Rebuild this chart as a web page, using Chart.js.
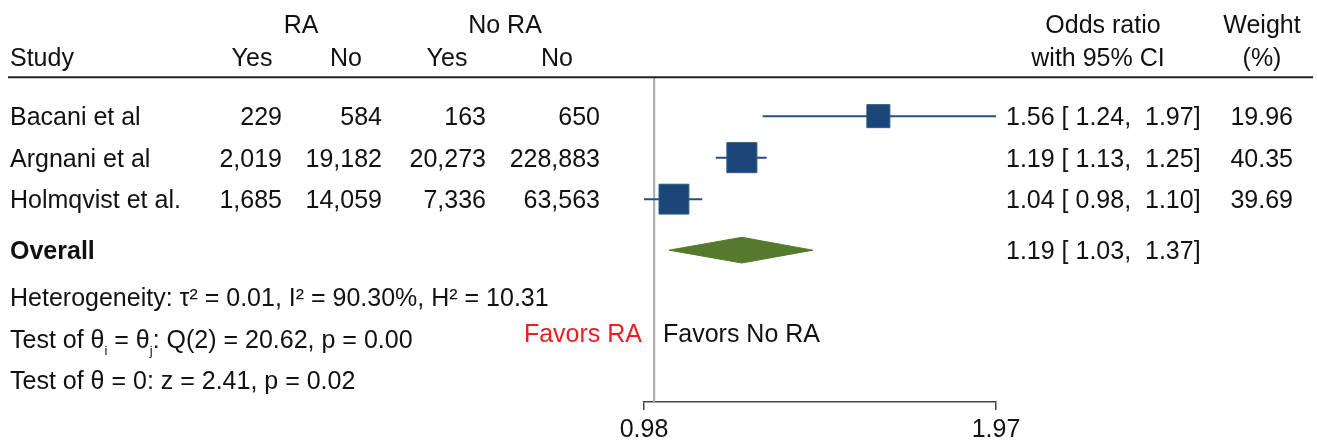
<!DOCTYPE html>
<html>
<head>
<meta charset="utf-8">
<script src="https://cdn.jsdelivr.net/npm/chart.js@4.4.1/dist/chart.umd.min.js"></script>
<style>
  html, body { margin: 0; padding: 0; background: #fff; }
  #wrap { width: 1317px; height: 441px; }
</style>
</head>
<body>
<div id="wrap"><canvas id="forest"></canvas></div>
<script>
// forest plot: RA vs No RA, random-effects odds ratios

var studies   = ['Bacani et al', 'Argnani et al', 'Holmqvist et al.'];
var raYes     = [229, 2019, 1685];
var raNo      = [584, 19182, 14059];
var noRaYes   = [163, 20273, 7336];
var noRaNo    = [650, 228883, 63563];
var oddsRatio = [1.56, 1.19, 1.04];
var ciLow     = [1.24, 1.13, 0.98];
var ciHigh    = [1.97, 1.25, 1.10];
var weights   = [19.96, 40.35, 39.69];
var overallOR = [1.19, 1.03, 1.37];   // estimate, lower, upper
var xTicks    = [0.98, 1.97];
var nullValue = 1;
var statLines = [
    'Heterogeneity: \u03c4\u00b2 = 0.01, I\u00b2 = 90.30%, H\u00b2 = 10.31',
    ['Test of \u03b8', 'i', ' = \u03b8', 'j', ': Q(2) = 20.62, p = 0.00'],
    'Test of \u03b8 = 0: z = 2.41, p = 0.02'
];

var FONT   = '"Liberation Sans", Arial, Helvetica, sans-serif';
var FS     = 25;
var NAVY   = '#1b4677';
var WHISK  = '#24507f';
var GREEN  = '#567a2c';

// row layout (row units on the y scale, studies at 1..n)
var Y_MIN = 0.08, Y_MAX = 7.89;
var HEAD_ROW1 = -1.23, HEAD_ROW2 = -0.43, HEAD_RULE = 0.06;
var overallRow = studies.length + 1.23;
var statRows = [overallRow + 1.12, overallRow + 2.14, overallRow + 3.13];
var favorsRow = overallRow + 2.0;
var DIAMOND_HALF = 0.31;

function fmt(n) { return n.toLocaleString('en-US'); }
function ciText(est, lo, hi) {
    return est.toFixed(2) + ' [ ' + lo.toFixed(2) + ',  ' + hi.toFixed(2) + ']';
}

var datasets = [];

// line of no effect
datasets.push({
    data: [{ x: nullValue, y: Y_MIN }, { x: nullValue, y: Y_MAX }],
    showLine: true, borderColor: '#a8a8a8', borderWidth: 2,
    pointRadius: 0, order: 5
});

// confidence intervals
studies.forEach(function (s, i) {
    datasets.push({
        data: [{ x: ciLow[i], y: i + 1 }, { x: ciHigh[i], y: i + 1 }],
        showLine: true, borderColor: WHISK, borderWidth: 2,
        pointRadius: 0, order: 3
    });
});

// weighted boxes (side grows with weight)
datasets.push({
    data: oddsRatio.map(function (v, i) { return { x: v, y: i + 1 }; }),
    pointStyle: 'rect',
    pointRadius: weights.map(function (w) { return 23 * Math.pow(w / 19.96, 0.38) / Math.SQRT2; }),
    backgroundColor: NAVY, borderColor: '#2a5a8c', borderWidth: 1,
    order: 1
});

// overall diamond
datasets.push({
    data: [
        { x: overallOR[1], y: overallRow },
        { x: overallOR[0], y: overallRow - DIAMOND_HALF },
        { x: overallOR[2], y: overallRow },
        { x: overallOR[0], y: overallRow + DIAMOND_HALF },
        { x: overallOR[1], y: overallRow }
    ],
    showLine: true, fill: 'shape', tension: 0,
    borderColor: GREEN, backgroundColor: GREEN, borderWidth: 1,
    pointRadius: 0, order: 2
});

function drawText(ctx, s, x, yc, align, opts) {
    opts = opts || {};
    var size = opts.size || FS;
    ctx.font = (opts.bold ? 'bold ' : '') + size + 'px ' + FONT;
    ctx.fillStyle = opts.color || '#111';
    ctx.textAlign = align || 'left';
    ctx.textBaseline = 'alphabetic';
    ctx.fillText(s, x, yc + 0.36 * FS);
    return ctx.measureText(s).width;
}

var tablePlugin = {
    id: 'forestTable',
    afterDraw: function (chart) {
        var ctx = chart.ctx;
        var ys = chart.scales.y;
        var ry = function (r) { return ys.getPixelForValue(r); };
        ctx.save();

        ctx.strokeStyle = '#222';
        ctx.lineWidth = 2;
        ctx.beginPath();
        ctx.moveTo(8, ry(HEAD_RULE));
        ctx.lineTo(1313, ry(HEAD_RULE));
        ctx.stroke();

        // headers
        drawText(ctx, 'RA', 301, ry(HEAD_ROW1), 'center');
        drawText(ctx, 'No RA', 505, ry(HEAD_ROW1), 'center');
        drawText(ctx, 'Odds ratio', 1103, ry(HEAD_ROW1), 'center');
        drawText(ctx, 'Weight', 1262, ry(HEAD_ROW1), 'center');
        drawText(ctx, 'Study', 10, ry(HEAD_ROW2), 'left');
        drawText(ctx, 'Yes', 252, ry(HEAD_ROW2), 'center');
        drawText(ctx, 'No', 346, ry(HEAD_ROW2), 'center');
        drawText(ctx, 'Yes', 447, ry(HEAD_ROW2), 'center');
        drawText(ctx, 'No', 557, ry(HEAD_ROW2), 'center');
        drawText(ctx, 'with 95% CI', 1098, ry(HEAD_ROW2), 'center');
        drawText(ctx, '(%)', 1262, ry(HEAD_ROW2), 'center');

        // study rows
        var colRight = [282, 382, 486, 600];
        studies.forEach(function (s, i) {
            var y = ry(i + 1);
            drawText(ctx, s, 10, y, 'left');
            [raYes, raNo, noRaYes, noRaNo].forEach(function (arr, c) {
                drawText(ctx, fmt(arr[i]), colRight[c], y, 'right');
            });
            drawText(ctx, ciText(oddsRatio[i], ciLow[i], ciHigh[i]), 1006, y, 'left');
            drawText(ctx, weights[i].toFixed(2), 1293, y, 'right');
        });

        drawText(ctx, 'Overall', 10, ry(overallRow), 'left', { bold: true });
        drawText(ctx, ciText(overallOR[0], overallOR[1], overallOR[2]), 1006, ry(overallRow), 'left');

        // heterogeneity and tests
        statLines.forEach(function (line, k) {
            var y = ry(statRows[k]);
            if (typeof line === 'string') {
                drawText(ctx, line, 10, y, 'left');
                return;
            }
            var x = 10;
            line.forEach(function (part, j) {
                if (j % 2 === 1) {
                    x += drawText(ctx, part, x, y + 7, 'left', { size: 13 });
                } else {
                    x += drawText(ctx, part, x, y, 'left');
                }
            });
        });

        drawText(ctx, 'Favors RA', 642, ry(favorsRow), 'right', { color: '#ee1d24' });
        drawText(ctx, 'Favors No RA', 663, ry(favorsRow), 'left');

        ctx.restore();
    }
};

new Chart(document.getElementById('forest'), {
    type: 'scatter',
    data: { datasets: datasets },
    options: {
        responsive: true,
        maintainAspectRatio: false,
        animation: false,
        layout: { padding: { left: 644, right: 321, top: 78, bottom: 0 } },
        plugins: { legend: { display: false }, tooltip: { enabled: false } },
        scales: {
            x: {
                type: 'logarithmic',
                min: xTicks[0],
                max: xTicks[xTicks.length - 1],
                afterBuildTicks: function (scale) {
                    scale.ticks = xTicks.map(function (v) { return { value: v }; });
                },
                afterFit: function (scale) { scale.height = 39; },
                ticks: {
                    color: '#111',
                    padding: 5,
                    maxRotation: 0,
                    autoSkip: false,
                    font: { family: FONT, size: FS },
                    callback: function (v) { return Number(v).toFixed(2); }
                },
                grid: { drawOnChartArea: false, drawTicks: true, tickLength: 8, color: '#444', lineWidth: 1.5 },
                border: { display: true, color: '#444', width: 1.5 }
            },
            y: {
                type: 'linear',
                display: false,
                reverse: true,
                min: Y_MIN,
                max: Y_MAX
            }
        }
    },
    plugins: [tablePlugin]
});
</script>
</body>
</html>
